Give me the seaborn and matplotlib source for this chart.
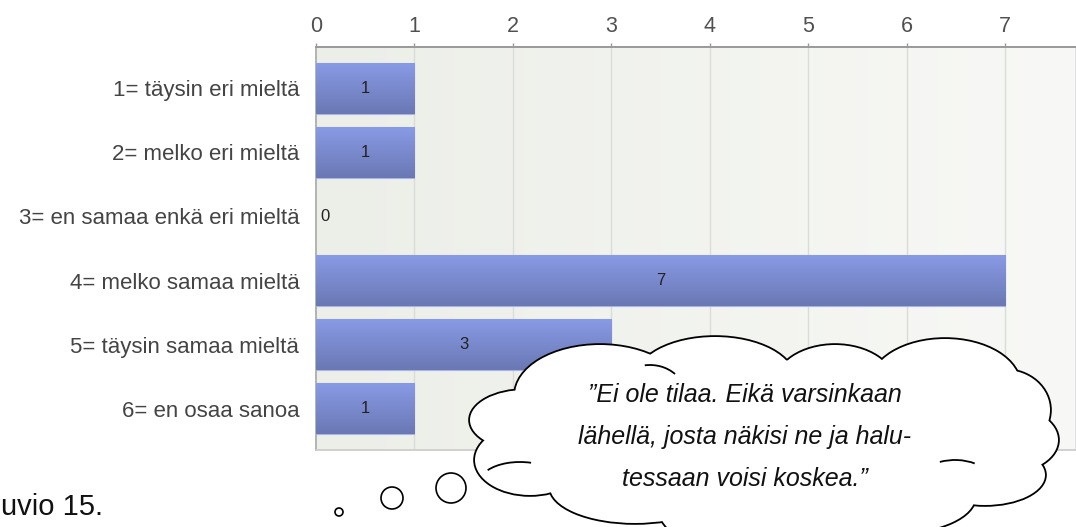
import matplotlib
matplotlib.use('Agg')
import matplotlib.pyplot as plt
import numpy as np
import pandas as pd
import seaborn as sns
from matplotlib.patches import Ellipse, Circle, Arc
from matplotlib.colors import LinearSegmentedColormap

# chart data
categories = ['1= täysin eri mieltä', '2= melko eri mieltä', '3= en samaa enkä eri mieltä',
              '4= melko samaa mieltä', '5= täysin samaa mieltä', '6= en osaa sanoa']
counts = [1, 1, 0, 7, 3, 1]
x_ticks = [0, 1, 2, 3, 4, 5, 6, 7]

# callout text
quote_lines = ['”Ei ole tilaa. Eikä varsinkaan',
               'lähellä, josta näkisi ne ja halu-',
               'tessaan voisi koskea.”']
caption = 'uvio 15.'

sns.set_theme(style='white')
plt.rcParams['font.family'] = ['Liberation Sans', 'DejaVu Sans']

df = pd.DataFrame({'vastaus': categories, 'lkm': counts})

W, H = 1076, 527
fig = plt.figure(figsize=(W / 100, H / 100), dpi=100)
ax = fig.add_axes([316 / W, 77 / H, 760 / W, 403 / H])

sns.barplot(data=df, x='lkm', y='vastaus', orient='y', color='#7b8bd0',
            width=0.8, saturation=1, ax=ax, zorder=3)

xmax = 7.72
ylo, yhi = -0.648, len(categories) - 1 + 0.648

# background gradient of the plot area
bg_cmap = LinearSegmentedColormap.from_list('bg', ['#eceee8', '#f8f9f6'])
ax.imshow(np.linspace(0, 1, 256).reshape(1, -1), cmap=bg_cmap, aspect='auto',
          extent=(0, xmax, yhi, ylo), zorder=0)
for t in x_ticks[1:]:
    ax.axvline(t, color='#d9dcd7', lw=1, zorder=1)

# bar gradients
bar_cmap = LinearSegmentedColormap.from_list('bar', ['#8a9be6', '#6a78b4'])
grad = np.linspace(0, 1, 64).reshape(-1, 1)
for patch in ax.patches:
    x0, y0 = patch.get_x(), patch.get_y()
    w, h = patch.get_width(), patch.get_height()
    if w <= 0:
        patch.set_linewidth(0)
        continue
    patch.set_edgecolor('#a7b3ea')
    patch.set_linewidth(0.8)
    im = ax.imshow(grad, cmap=bar_cmap, aspect='auto', extent=(x0, x0 + w, y0 + h, y0),
                   zorder=3.5, interpolation='bicubic')
    im.set_clip_path(patch)

# value labels
for i, v in enumerate(counts):
    if v > 0:
        ax.text(v / 2, i, str(v), ha='center', va='center', fontsize=12, color='#222222', zorder=5)
    else:
        ax.text(0.04, i, str(v), ha='left', va='center', fontsize=12, color='#222222', zorder=5)

ax.set_xlim(0, xmax)
ax.set_ylim(yhi, ylo)
ax.xaxis.tick_top()
ax.set_xticks(x_ticks)
ax.set_xlabel('')
ax.set_ylabel('')
ax.tick_params(axis='x', top=True, bottom=False, length=3, width=1, color='#999999',
               labelsize=15.5, labelcolor='#505050', pad=4)
ax.tick_params(axis='y', left=False, labelsize=16, labelcolor='#444444', pad=6)
ax.spines['top'].set_color('#999999')
ax.spines['top'].set_linewidth(1.4)
ax.spines['left'].set_color('#aaaaaa')
ax.spines['bottom'].set_color('#cccccc')
ax.spines['right'].set_color('#dddddd')

# overlay in pixel coordinates for the cloud callout
ov = fig.add_axes([0, 0, 1, 1], zorder=10)
ov.set_xlim(0, W)
ov.set_ylim(H, 0)
ov.axis('off')

bumps = [
    (600, 395, 170, 100),
    (715, 380, 160, 86),
    (835, 385, 120, 80),
    (945, 385, 150, 92),
    (1005, 410, 90, 80),
    (1010, 440, 96, 64),
    (985, 475, 120, 60),
    (895, 497, 160, 72),
    (765, 512, 210, 84),
    (635, 487, 170, 72),
    (530, 460, 110, 70),
    (525, 420, 110, 60),
]
for cx, cy, bw, bh in bumps:
    ov.add_patch(Ellipse((cx, cy), bw, bh, facecolor='white', edgecolor='black', lw=2.6, zorder=1))
for cx, cy, bw, bh in bumps:
    ov.add_patch(Ellipse((cx, cy), bw, bh, facecolor='white', edgecolor='none', zorder=2))
ov.add_patch(Ellipse((760, 435), 460, 150, facecolor='white', edgecolor='none', zorder=2))

# small inward folds of the cloud outline
folds = [((520, 482), 80, 40, 200, 300),
         ((955, 480), 70, 40, 230, 320),
         ((650, 395), 70, 60, 260, 320)]
for (cx, cy), fw, fh, a1, a2 in folds:
    ov.add_patch(Arc((cx, cy), fw, fh, theta1=a1, theta2=a2, color='black', lw=1.3, zorder=2.5))

for k, line in enumerate(quote_lines):
    ov.text(745, 395 + k * 42, line, ha='center', va='center', fontsize=18,
            style='italic', color='#111111', zorder=3)

for cx, cy, r in [(339, 512, 4), (392, 498, 11), (451, 488, 15)]:
    ov.add_patch(Circle((cx, cy), r, facecolor='white', edgecolor='black', lw=1.2, zorder=3))

ov.text(1, 515, caption, ha='left', va='baseline', fontsize=21, color='#111111')

fig.savefig('out.png', dpi=100)
